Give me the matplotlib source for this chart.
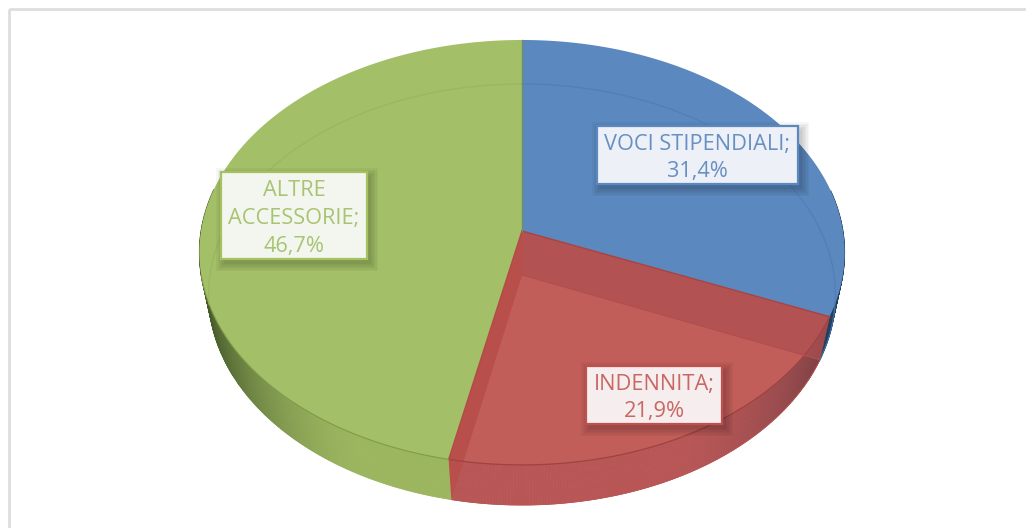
import numpy as np
import matplotlib
matplotlib.use('Agg')
import matplotlib.pyplot as plt
from matplotlib.patches import Polygon, Rectangle

# data
labels = ['VOCI STIPENDIALI;\n31,4%', 'INDENNITA;\n21,9%', 'ALTRE\nACCESSORIE;\n46,7%']
values = [31.4, 21.9, 46.7]

top_cols = ['#5B88BE', '#C25E59', '#A3BF67']
txt_cols = ['#6690C3', '#C96763', '#A8C372']
box_fill = ['#EDF0F6', '#F6EEEE', '#F3F6EF']
box_edge = ['#5B88BE', '#C0504D', '#A5C160']
label_boxes = [(597, 126, 201, 58), (586, 366, 136, 58), (221, 172, 146, 87)]

# projected disks: centre x, apex y, half width, half height, perspective
TOP = (522, 231, 321, 210.3, 0.101)
BOT = (522, 275, 312, 208.7, 0.0926)


def proj(disk, t):
    # t is the clockwise angle from 12 o'clock, in degrees
    cx, cy, a, b, k = disk
    t = np.radians(t)
    u, v = np.sin(t), -np.cos(t)
    w = 1 - k * v
    return np.column_stack([cx + a * u / w, cy + b * v / w])


def mix(c1, c2, f):
    c1 = np.array(matplotlib.colors.to_rgb(c1))
    c2 = np.array(matplotlib.colors.to_rgb(c2))
    return tuple(c1 + (c2 - c1) * f)


fig = plt.figure(figsize=(10.26, 5.28), dpi=100)
ax = fig.add_axes([0, 0, 1, 1])
ax.set_xlim(0, 1026)
ax.set_ylim(528, 0)
ax.axis('off')

# frame
ax.add_patch(Rectangle((8.5, 9), 1030, 540, fc='none', ec='#DEDEDE', lw=2))

edges = np.concatenate([[0], np.cumsum(values) / sum(values) * 360])
blue0, blue1 = edges[0], edges[1]
red0, red1 = edges[1], edges[2]
green0, green1 = edges[2], edges[3]

# outer wall, one thin quad per step so that it can shade towards the sides
wall_steps = [
    (blue0, blue1, '#1F4060', '#1F4060', 0),
    (red0, red1, '#B85656', '#7A3F44', 1),
    (green0, green1, '#9CB65F', '#46592B', 2),
]
for t0, t1, c_front, c_side, idx in wall_steps:
    ts = np.linspace(t0, t1, int(t1 - t0) * 2 + 2)
    for a, b in zip(ts[:-1], ts[1:]):
        mid = (a + b) / 2
        if np.cos(np.radians(mid)) > 0.2:
            continue
        s = abs(np.sin(np.radians(mid)))
        if idx == 0:
            f = 1
        elif idx == 1:
            f = np.clip((s - 0.45) / 0.5, 0, 1) ** 1.5
        else:
            f = np.clip((s - 0.45) / 0.53, 0, 1) ** 1.7
        quad = np.vstack([proj(TOP, np.array([a, b])),
                          proj(BOT, np.array([b, a]))])
        c = mix(c_front, c_side, f)
        ax.add_patch(Polygon(quad, fc=c, ec=c, lw=0.6))

# red cut faces, seen through the slice
apex_t = np.array(TOP[:2])
apex_b = np.array(BOT[:2])
ts_red = np.linspace(red0, red1, 120)
red_top = np.vstack([apex_t, proj(TOP, ts_red)])
red_bot = np.vstack([apex_b, proj(BOT, ts_red)])

# top surfaces
for t0, t1, col in zip(edges[:-1], edges[1:], top_cols):
    ts = np.linspace(t0, t1, 240)
    pts = np.vstack([apex_t, proj(TOP, ts)])
    if col == top_cols[1]:
        col = '#B25252'
    ax.add_patch(Polygon(pts, fc=col, ec='none'))

# lit part of the red slice
lit = Polygon(red_bot, fc=top_cols[1], ec='none')
ax.add_patch(lit)
lit.set_clip_path(Polygon(red_top, transform=ax.transData))

# red faces in front of the wall
right_face = np.vstack([apex_t, proj(TOP, [red0]), proj(BOT, [red0]), apex_b])
left_face = np.vstack([apex_t, proj(TOP, [red1]), proj(BOT, [red1]), apex_b])
ax.add_patch(Polygon(right_face, fc='#B25254', ec='none', alpha=0.6))
ax.add_patch(Polygon(left_face, fc='#B84F4A', ec='none'))

# outlines
ts = np.linspace(red0, red1, 120)
ax.plot(*proj(TOP, ts).T, color='#9E4341', lw=0.9)
ax.plot(*proj(BOT, ts).T, color='#B85656', lw=0.6)
ax.plot(*np.vstack([apex_t, proj(TOP, [red0])]).T, color='#A84442', lw=1)
ax.plot(*np.vstack([apex_t, proj(TOP, [red1])]).T, color='#B24B46', lw=1)
ax.plot(*np.vstack([apex_b, proj(BOT, [red0])]).T, color='#B24F4C', lw=0.8)
ts = np.linspace(green0, 258, 80)
ax.plot(*proj(TOP, ts).T, color='#809A48', lw=0.8)
ax.plot(*np.vstack([apex_t, proj(TOP, [0])]).T, color='#6F8F6A', lw=1)

# far rim of the bottom disk, seen through the top
ts = np.linspace(0, blue1, 120)
ax.plot(*proj(BOT, ts).T, color='#4F7DB3', lw=1, alpha=0.7)
ts = np.linspace(262, 360, 120)
ax.plot(*proj(BOT, ts).T, color='#97B35A', lw=1, alpha=0.6)

# labels
for text, (x, y, w, h), tc, fc, ec in zip(labels, label_boxes, txt_cols, box_fill, box_edge):
    for grow in [8, 6.5, 5, 3.5, 2, 0.5]:
        ax.add_patch(Rectangle((x + 3 - grow, y + 4 - grow), w + 2 * grow, h + 2 * grow,
                               fc='black', ec='none', alpha=0.035, zorder=5))
    ax.add_patch(Rectangle((x, y), w, h, fc=fc, ec=ec, lw=1.6, zorder=6))
    ax.text(x + w / 2, y + h / 2 + 3, text, ha='center', va='center', color=tc,
            family='Open Sans', fontsize=15.7, linespacing=1.42, zorder=7)

fig.savefig('out.png', dpi=100)
